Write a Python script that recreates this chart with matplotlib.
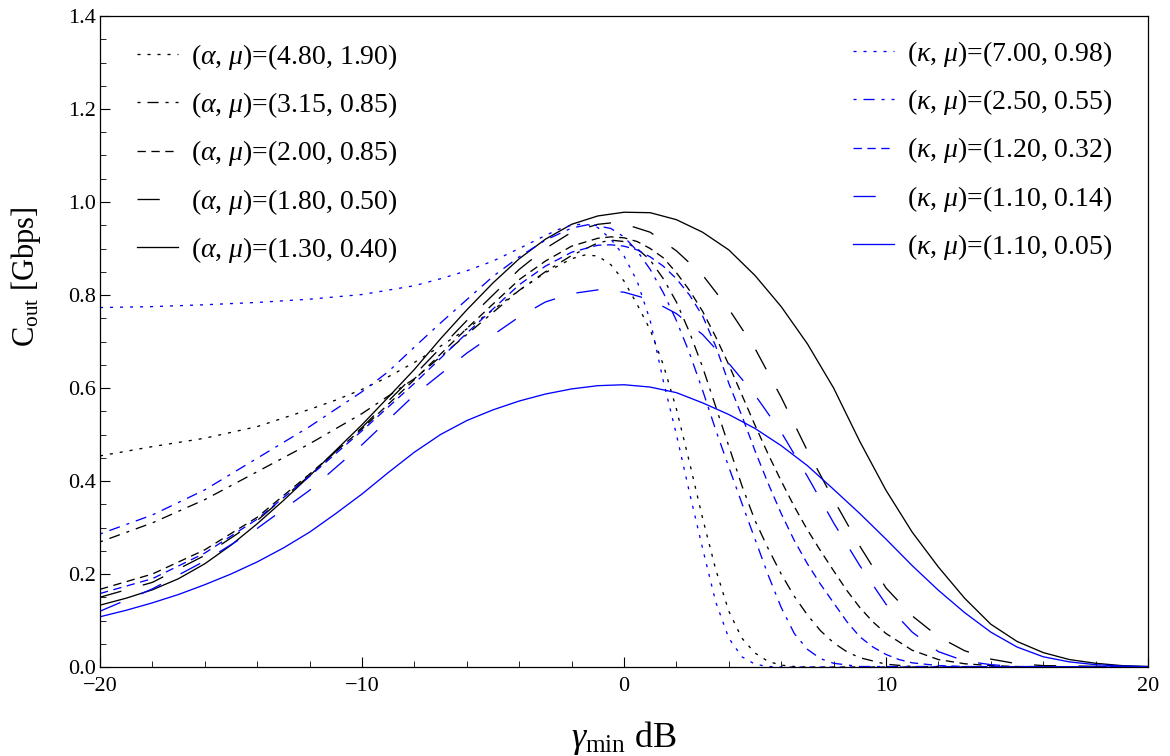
import matplotlib
matplotlib.use("Agg")
import matplotlib.pyplot as plt
from matplotlib.ticker import MultipleLocator, FormatStrFormatter

plt.rcParams['font.family'] = ['Liberation Serif', 'DejaVu Serif']
plt.rcParams['mathtext.fontset'] = 'custom'
plt.rcParams['mathtext.rm'] = 'Liberation Serif'
plt.rcParams['mathtext.it'] = 'Liberation Serif:italic'
plt.rcParams['lines.scale_dashes'] = False

# ---------------- data ----------------
# alpha-mu series (black)
x_a1 = [-20, -18, -16, -14, -12, -11, -10, -9, -8, -7, -6, -5, -4, -3, -2, -1.5, -1, -0.5, 0, 0.5, 1, 1.5, 2, 2.5, 3, 3.5, 4, 4.5, 5, 5.5, 6, 6.5, 7, 20]
y_a1 = [.454, .474, .492, .517, .554, .574, .597, .624, .655, .69, .727, .768, .81, .848, .878, .886, .884, .865, .83, .78, .725, .65, .555, .44, .32, .21, .12, .062, .03, .012, .004, .001, 0, 0]

x_a2 = [-20, -18, -16, -14, -12, -10, -8, -6, -4, -3, -2, -1, -0.5, 0, 0.5, 1, 1.5, 2, 2.5, 3, 3.5, 4, 4.5, 5, 5.5, 6, 6.5, 7, 7.5, 8, 8.5, 9, 10, 11, 20]
y_a2 = [.269, .31, .36, .42, .48, .545, .62, .715, .81, .85, .885, .912, .918, .915, .9, .875, .835, .785, .72, .645, .56, .475, .39, .315, .255, .20, .152, .112, .078, .052, .033, .02, .006, .001, 0]

x_a3 = [-20, -18, -16, -14, -12, -10, -8, -6, -4, -3, -2, -1, -0.5, 0, 0.5, 1, 1.5, 2, 2.5, 3, 3.5, 4, 4.5, 5, 5.5, 6, 6.5, 7, 7.5, 8, 8.5, 9, 9.5, 10, 11, 12, 13, 14, 15, 20]
y_a3 = [.167, .2, .252, .322, .415, .512, .618, .728, .833, .873, .905, .922, .925, .923, .915, .9, .88, .848, .81, .765, .71, .65, .585, .52, .458, .40, .345, .295, .25, .207, .165, .128, .097, .072, .036, .016, .007, .003, .001, 0]

x_a4 = [-20, -18, -16, -14, -12, -10, -8, -6, -4, -3, -2, -1, -0.5, 0, 1, 2, 3, 4, 5, 6, 7, 8, 9, 10, 11, 12, 13, 14, 15, 16, 20]
y_a4 = [.150, .182, .24, .315, .412, .515, .628, .745, .855, .9, .935, .952, .955, .953, .935, .895, .843, .77, .685, .58, .465, .36, .26, .17, .11, .065, .035, .017, .007, .003, 0]

x_a5 = [-20, -19, -18, -17, -16, -15, -14, -13, -12, -11, -10, -9, -8, -7, -6, -5, -4, -3, -2, -1, 0, 1, 2, 3, 4, 5, 6, 7, 8, 9, 10, 11, 12, 13, 14, 15, 16, 17, 18, 19, 20]
y_a5 = [.133, .148, .166, .190, .222, .262, .308, .358, .411, .466, .521, .580, .640, .706, .768, .826, .878, .920, .952, .970, .978, .977, .962, .935, .897, .842, .775, .695, .600, .485, .38, .29, .215, .148, .092, .055, .031, .016, .008, .003, .001]

# kappa-mu series (blue)
x_k1 = [-20, -18, -16, -14, -12, -10, -8, -7, -6, -5, -4, -3, -2.5, -2, -1.5, -1, -0.5, 0, 0.5, 1, 1.5, 2, 2.5, 3, 3.5, 4, 4.5, 5, 5.5, 6, 20]
y_k1 = [.773, .775, .779, .784, .791, .801, .82, .835, .852, .873, .9, .928, .941, .95, .953, .945, .92, .884, .83, .745, .615, .5, .375, .255, .14, .062, .022, .006, .001, 0, 0]

x_k2 = [-20, -18, -16, -14, -12, -10, -9, -8, -7, -6, -5, -4, -3, -2, -1.3, -0.5, 0, 0.5, 1, 1.5, 2, 2.5, 3, 3.5, 4, 4.5, 5, 5.5, 6, 6.5, 7, 7.5, 8, 9, 20]
y_k2 = [.286, .327, .381, .449, .517, .592, .635, .688, .74, .79, .84, .882, .918, .944, .952, .943, .925, .895, .855, .805, .745, .675, .595, .51, .43, .352, .275, .198, .128, .072, .038, .018, .008, .001, 0]

x_k3 = [-20, -18, -16, -14, -12, -10, -8, -6, -4, -3, -2, -1, -0.5, 0, 0.5, 1, 1.5, 2, 2.5, 3, 3.5, 4, 4.5, 5, 5.5, 6, 6.5, 7, 7.5, 8, 8.5, 9, 9.5, 10, 10.5, 11, 12, 13, 20]
y_k3 = [.158, .19, .245, .318, .41, .508, .61, .718, .822, .862, .892, .907, .908, .905, .897, .882, .862, .835, .8, .755, .69, .61, .54, .465, .395, .33, .272, .222, .178, .138, .098, .065, .043, .027, .016, .009, .003, .001, 0]

x_k4 = [-20, -18, -16, -14, -12, -10, -8, -6, -4, -3, -2, -1, 0, 1, 2, 3, 4, 5, 6, 7, 8, 9, 10, 11, 12, 13, 14, 15, 20]
y_k4 = [.12, .168, .228, .298, .38, .478, .585, .675, .753, .785, .803, .811, .806, .79, .76, .715, .653, .585, .505, .41, .31, .218, .135, .075, .033, .013, .005, .001, 0]

x_k5 = [-20, -19, -18, -17, -16, -15, -14, -13, -12, -11, -10, -9, -8, -7, -6, -5, -4, -3, -2, -1, 0, 1, 2, 3, 4, 5, 6, 7, 8, 9, 10, 11, 12, 13, 14, 15, 16, 17, 18, 19, 20]
y_k5 = [.108, .122, .138, .156, .177, .200, .226, .256, .290, .330, .372, .418, .462, .500, .530, .553, .572, .587, .598, .605, .607, .602, .590, .568, .543, .513, .476, .433, .382, .330, .275, .218, .165, .117, .075, .043, .022, .011, .005, .002, .001]

labels_a = ["(4.80, 1.90)", "(3.15, 0.85)", "(2.00, 0.85)", "(1.80, 0.50)", "(1.30, 0.40)"]
labels_k = ["(7.00, 0.98)", "(2.50, 0.55)", "(1.20, 0.32)", "(1.10, 0.14)", "(1.10, 0.05)"]

# ---------------- styles ----------------
dotted = (0, (2.2, 5.0))
dashdot = (0, (2.2, 5.0, 8.0, 5.0))
dashed = (0, (6.0, 4.0))
longdash = (0, (16.0, 16.0))
solid = '-'
styles = [dotted, dashdot, dashed, longdash, solid]

fig = plt.figure(figsize=(11.7, 7.56), dpi=100)
ax = fig.add_axes([100 / 1170, 1 - 667 / 756, 1048 / 1170, 651 / 756])

a_series = [(x_a1, y_a1), (x_a2, y_a2), (x_a3, y_a3), (x_a4, y_a4), (x_a5, y_a5)]
k_series = [(x_k1, y_k1), (x_k2, y_k2), (x_k3, y_k3), (x_k4, y_k4), (x_k5, y_k5)]

lw = 0.95
a_lines = []
for (xs, ys), ls, lab in zip(a_series, styles, labels_a):
    ln, = ax.plot(xs, ys, color='black', lw=lw, linestyle=ls,
                  label=r"($\alpha$, $\mu$)=" + lab)
    a_lines.append(ln)
k_lines = []
for (xs, ys), ls, lab in zip(k_series, styles, labels_k):
    ln, = ax.plot(xs, ys, color='#0000ff', lw=lw, linestyle=ls,
                  label=r"($\kappa$, $\mu$)=" + lab)
    k_lines.append(ln)

ax.set_xlim(-20, 20)
ax.set_ylim(0, 1.4)
ax.xaxis.set_major_locator(MultipleLocator(10))
ax.xaxis.set_minor_locator(MultipleLocator(2))
ax.yaxis.set_major_locator(MultipleLocator(0.2))
ax.yaxis.set_minor_locator(MultipleLocator(0.05))
ax.yaxis.set_major_formatter(FormatStrFormatter('%.1f'))
ax.tick_params(which='both', direction='in', top=False, right=False, labelsize=16)
ax.tick_params(axis='x', pad=7)
ax.tick_params(axis='y', pad=3)
ax.tick_params(which='major', length=7, width=0.8)
ax.tick_params(which='minor', length=4, width=0.6)
for s in ax.spines.values():
    s.set_linewidth(0.9)

ax.set_xlabel(r"$\gamma_{\mathrm{min}}$ dB", fontsize=26)
ax.xaxis.set_label_coords(0.5, -0.080)
ax.set_ylabel(r"C$_{\mathrm{out}}$ [Gbps]", fontsize=22)
ax.yaxis.set_label_coords(-0.054, 0.60)

fs_leg = 20
leg_kw = dict(frameon=False, fontsize=fs_leg, handlelength=1.47, handletextpad=0.47,
              labelspacing=0.655, borderaxespad=0.0, borderpad=0.0)
leg1 = ax.legend(handles=a_lines, loc='upper left', bbox_to_anchor=(37 / 1048, 1 - 26 / 651), **leg_kw)
ax.add_artist(leg1)
leg2 = ax.legend(handles=k_lines, loc='upper left', bbox_to_anchor=(753 / 1048, 1 - 23 / 651), **leg_kw)

fig.savefig("out.png", dpi=100)
